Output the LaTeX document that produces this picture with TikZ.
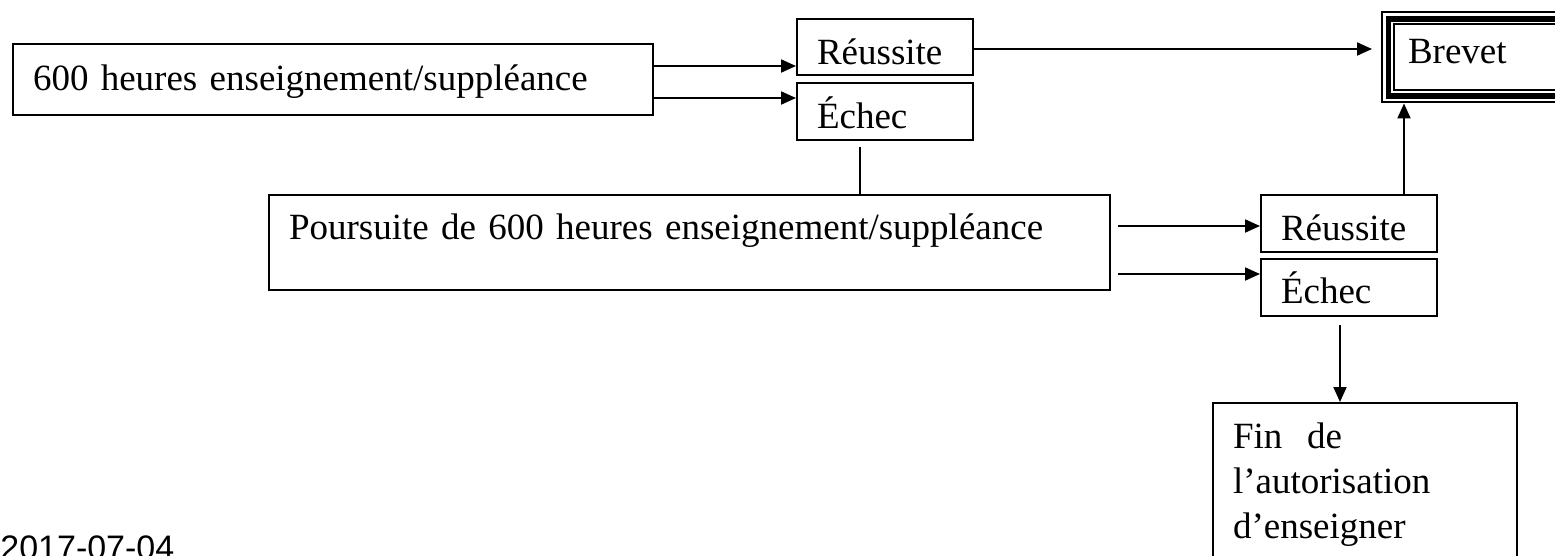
\documentclass[tikz,border=0pt]{standalone}
\usepackage{fontspec}
\setmainfont{Liberation Serif}
\setsansfont{Liberation Sans}
\usetikzlibrary{arrows.meta}

\begin{document}
\begin{tikzpicture}[x=0.5pt,y=-0.5pt,
    box/.style={draw,line width=1pt,anchor=north west,inner sep=0pt,align=left,
        font=\fontsize{18.5}{22.5}\selectfont},
    arr/.style={-{Triangle[length=7.5pt,width=6.5pt]},line width=1pt}]
        \useasboundingbox (0,0) rectangle (1555,556);
        \clip (0,0) rectangle (1555,556);

        % First period
        \node[box,minimum width=320pt,minimum height=35.5pt,text width=300pt,
            text height=11.5pt,text depth=0pt] (src1) at (12,43)
            {600 heures enseignement/suppléance};
        \node[box,minimum width=88pt,minimum height=28pt,text width=68pt,
            text height=18pt,text depth=0pt] (ok1) at (796,18) {Réussite};
        \node[box,minimum width=88pt,minimum height=28.5pt,text width=68pt,
            text height=17.5pt,text depth=0pt] (ko1) at (796,82) {Échec};

        % Brevet (triple frame)
        \node[box,minimum width=100pt,minimum height=45pt,text width=74pt,
            text height=6.5pt,text depth=0pt] (brevet) at (1381,11.5) {Brevet};
        \draw[line width=2.75pt] ([shift={(7.5,7.5)}]brevet.north west)
            rectangle ([shift={(-7.5,-7.5)}]brevet.south east);
        \draw[line width=1pt] ([shift={(13,13)}]brevet.north west)
            rectangle ([shift={(-13,-13)}]brevet.south east);

        % Second period
        \node[box,minimum width=420.5pt,minimum height=47.5pt,text width=400.5pt,
            text height=0pt,text depth=2.5pt] (src2) at (268,194)
            {Poursuite de 600 heures enseignement/suppléance};
        \node[box,minimum width=88pt,minimum height=28.5pt,text width=68pt,
            text height=17.5pt,text depth=0pt] (ok2) at (1260,194) {Réussite};
        \node[box,minimum width=88pt,minimum height=28.5pt,text width=68pt,
            text height=16.5pt,text depth=0pt] (ko2) at (1260,258) {Échec};

        % End
        \node[box,minimum width=152pt,text width=132pt,
            text height=22.5pt,text depth=100pt] (stop) at (1212,402)
            {Fin~ de\\l’autorisation\\d’enseigner};

        % Date
        \node[anchor=base west,inner sep=0pt,font=\sffamily\fontsize{17}{20}\selectfont]
            (date) at (0,559) {2017-07-04};

        % Connectors
        \draw[arr] (src1.east |- 0,66) -- (ok1.west |- 0,66);
        \draw[arr] (src1.east |- 0,98) -- (ko1.west |- 0,98);
        \draw[arr,shorten >=4.5pt] (ok1.east |- 0,49) -- (brevet.west |- 0,49);
        \draw[line width=1pt,shorten <=3pt] (ko1.south -| 860,0) -- (src2.north -| 860,0);
        \draw[arr,shorten <=3.5pt] (src2.east |- 0,226) -- (ok2.west |- 0,226);
        \draw[arr,shorten <=3.5pt] (src2.east |- 0,274) -- (ko2.west |- 0,274);
        \draw[arr] (ok2.north -| 1404,0) -- (brevet.south -| 1404,0);
        \draw[arr,shorten <=4pt] (ko2.south -| 1340,0) -- (stop.north -| 1340,0);
    \end{tikzpicture}
\end{document}
